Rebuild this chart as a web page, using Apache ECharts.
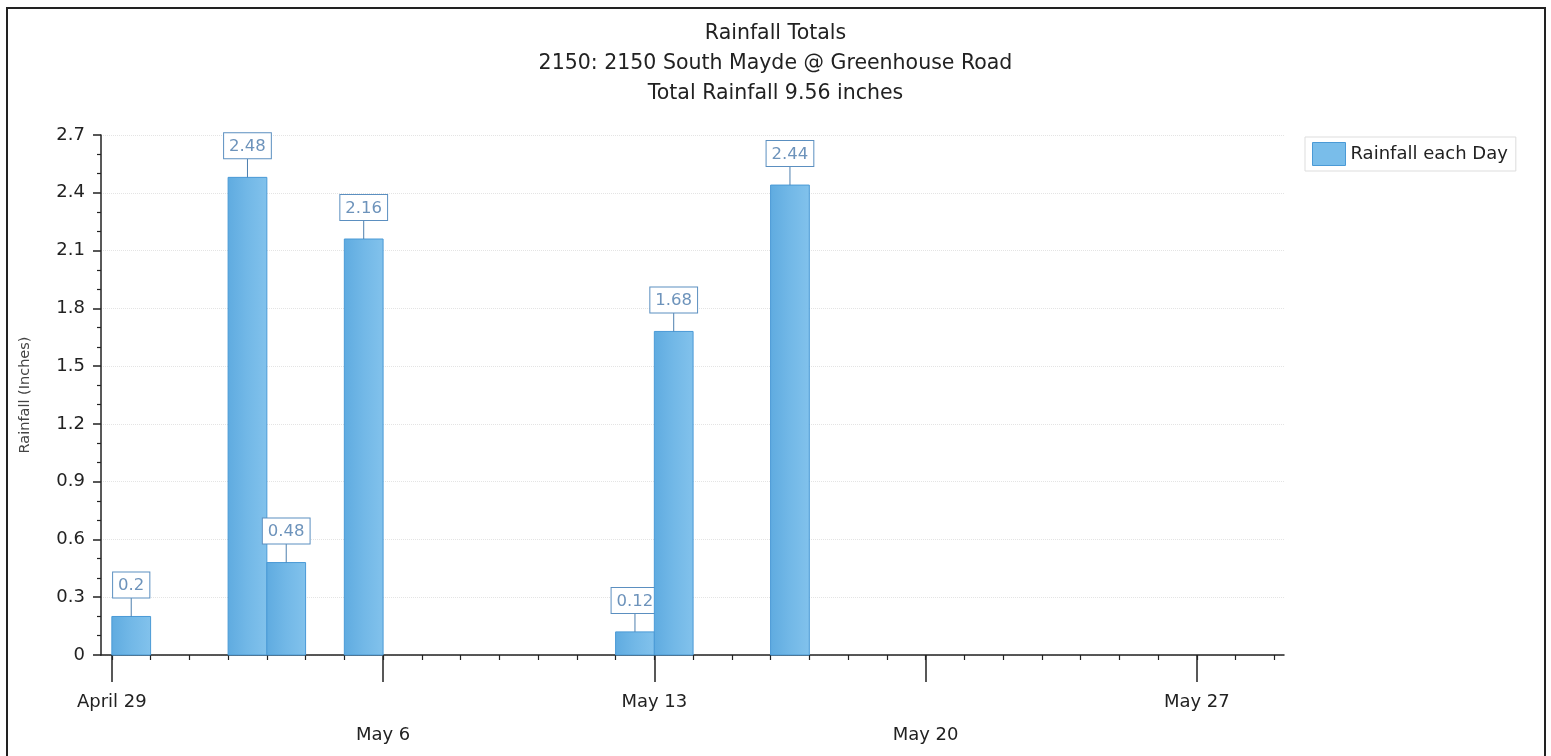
<!DOCTYPE html>
<html><head><meta charset="utf-8">
<script src="https://cdn.jsdelivr.net/npm/echarts@6/dist/echarts.min.js"></script>
<style>html,body{margin:0;padding:0;background:#fff}#c{width:1551px;height:756px}</style>
</head><body><div id="c"></div>
<script>
const titleLines = ['Rainfall Totals', '2150: 2150 South Mayde @ Greenhouse Road', 'Total Rainfall 9.56 inches'];
const seriesName = 'Rainfall each Day';
const yAxisName = 'Rainfall (Inches)';
const rainDates = ['04-29', '05-02', '05-03', '05-05', '05-12', '05-13', '05-16'];
const rainValues = [0.2, 2.48, 0.48, 2.16, 0.12, 1.68, 2.44];
const tickDates = ['04-29', '05-06', '05-13', '05-20', '05-27'];
const tickLabels = ['April 29', 'May 6', 'May 13', 'May 20', 'May 27'];
const axisStart = '04-29';
const axisLastDay = '05-29';
const yMin = 0, yMax = 2.7, yInterval = 0.3;

const FONT = '"DejaVu Sans", "Liberation Sans", sans-serif';

function dayIndex(md) {
  const [m, d] = md.split('-').map(Number);
  const [m0, d0] = axisStart.split('-').map(Number);
  return Math.round((Date.UTC(2000, m - 1, d) - Date.UTC(2000, m0 - 1, d0)) / 864e5);
}
const tickIdx = tickDates.map(dayIndex);
const lastIdx = dayIndex(axisLastDay);
const dailyTicks = [];
for (let i = 0; i <= lastIdx; i++) dailyTicks.push(i);
const xMin = -0.28, xMax = lastIdx + 0.25;

const seriesData = rainDates.map((d, i) => [dayIndex(d), rainValues[i]]);

const chart = echarts.init(document.getElementById('c'), null, { renderer: 'canvas' });

const barFill = new echarts.graphic.LinearGradient(0, 0, 1, 0, [
  { offset: 0, color: '#5fabe0' }, { offset: 0.5, color: '#72b8e7' }, { offset: 1, color: '#82c2ec' }
]);

function renderItem(params, api) {
  const x = api.value(0), v = api.value(1);
  const base = api.coord([x, 0]);
  const top = api.coord([x + 1, v]);
  const w = top[0] - base[0], h = base[1] - top[1];
  const cx = base[0] + w / 2;
  const lineLen = 19;
  return {
    type: 'group',
    children: [
      { type: 'rect', shape: { x: base[0], y: top[1], width: w, height: h },
        style: { fill: barFill, stroke: '#4a9ad6', lineWidth: 1 } },
      { type: 'line', shape: { x1: cx, y1: top[1], x2: cx, y2: top[1] - lineLen },
        style: { stroke: '#4d7fae', lineWidth: 1 } },
      { type: 'text', x: cx, y: top[1] - lineLen,
        style: { text: String(v), align: 'center', verticalAlign: 'bottom', fill: '#6d93bb',
          font: '16.5px ' + FONT, backgroundColor: '#fff', borderColor: '#5b8fc0', borderWidth: 1,
          padding: [5, 5, 3, 5] } }
    ]
  };
}

const axisColor = '#222';
const option = {
  animation: false,
  backgroundColor: '#fff',
  textStyle: { fontFamily: FONT },
  title: {
    text: titleLines.join('\n'), left: 'center', top: 14,
    textStyle: { fontSize: 20.5, fontWeight: 'normal', color: '#222', lineHeight: 30, fontFamily: FONT }
  },
  legend: {
    left: 1305, top: 137, orient: 'vertical', padding: [5, 8, 5, 7],
    itemWidth: 33, itemHeight: 23, borderColor: '#dddddd', borderWidth: 1,
    textStyle: { fontSize: 18, color: '#222', fontFamily: FONT },
    data: [{ name: seriesName, icon: 'rect', itemStyle: { color: '#79bdea', borderColor: '#4a9ad6', borderWidth: 1 } }]
  },
  grid: { left: 101, right: 267, top: 135, bottom: 101 },
  xAxis: [
    {
      type: 'value', min: xMin, max: xMax,
      axisLine: { show: true, onZero: false, lineStyle: { color: axisColor, width: 1.5 } },
      axisTick: { show: true, customValues: tickIdx, length: 27, lineStyle: { color: axisColor, width: 1.5 } },
      axisLabel: {
        show: true, customValues: tickIdx, margin: 37, verticalAlign: 'top',
        formatter: function (val) {
          const i = tickIdx.indexOf(Math.round(val));
          if (i < 0) return '';
          return (i % 2 ? '{b|' : '{a|') + tickLabels[i] + '}';
        },
        rich: {
          a: { fontSize: 18, lineHeight: 20, color: '#222', fontFamily: FONT },
          b: { fontSize: 18, lineHeight: 20, color: '#222', fontFamily: FONT, padding: [66, 0, 0, 0] }
        }
      },
      splitLine: { show: false }
    },
    {
      type: 'value', min: xMin, max: xMax, position: 'bottom',
      axisLine: { show: false, onZero: false },
      axisTick: { show: true, customValues: dailyTicks, length: 5, lineStyle: { color: axisColor, width: 1.2 } },
      axisLabel: { show: false },
      splitLine: { show: false }
    }
  ],
  yAxis: {
    type: 'value', min: yMin, max: yMax, interval: yInterval,
    name: yAxisName, nameLocation: 'middle', nameGap: 68,
    nameTextStyle: { fontSize: 14.5, color: '#444', fontFamily: FONT },
    axisLine: { show: true, onZero: false, lineStyle: { color: axisColor, width: 1.5 } },
    axisTick: { show: true, length: 8, lineStyle: { color: axisColor, width: 1.5 } },
    minorTick: { show: true, splitNumber: 3, length: 4, lineStyle: { color: axisColor, width: 1.2 } },
    axisLabel: { margin: 16, fontSize: 18, color: '#222', fontFamily: FONT,
      formatter: v => String(+v.toFixed(1)) },
    splitLine: { show: true, lineStyle: { color: '#e4e4e4', type: 'dotted' } }
  },
  series: [{
    name: seriesName, type: 'custom', xAxisIndex: 0, yAxisIndex: 0,
    renderItem: renderItem,
    itemStyle: { color: '#79bdea' },
    encode: { x: 0, y: 1 },
    data: seriesData,
    z: 3
  }],
  graphic: [{
    type: 'rect', silent: true, z: -10,
    shape: { x: 7, y: 8, width: 1538, height: 800 },
    style: { fill: 'none', stroke: '#222', lineWidth: 2 }
  }]
};
chart.setOption(option);
</script>
</body></html>
